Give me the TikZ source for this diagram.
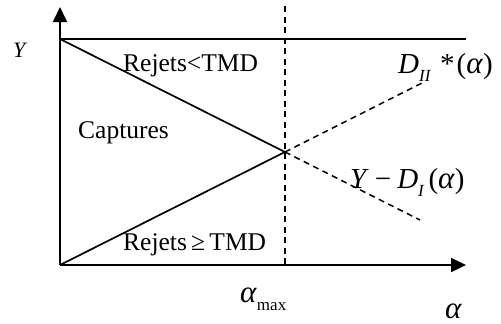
\documentclass[tikz,border=0pt]{standalone}
\usepackage{fontspec}
\setmainfont{Liberation Serif}
\usetikzlibrary{arrows.meta}

\newcommand{\alp}{{\fontsize{31}{34}\selectfont\textit{α}}}
\newcommand{\low}[1]{\raisebox{-0.3em}{\fontsize{17}{19}\selectfont\textit{#1}}}

\begin{document}
\begin{tikzpicture}[x=1pt, y=-1pt,
  axis/.style={line width=1.7pt, -{Triangle[length=15pt, width=14pt]}},
  curve/.style={line width=1.7pt},
  guide/.style={line width=1.5pt, dash pattern=on 6pt off 4.5pt},
  lbl/.style={inner sep=0pt, anchor=base west, font=\fontsize{25.5}{28}\selectfont},
  mlbl/.style={inner sep=0pt, anchor=base west, font=\fontsize{29}{32}\selectfont}
]
\useasboundingbox (0,0) rectangle (501,324);

% points of the plot
\coordinate (O) at (60,265);
\coordinate (ytop) at (60,7);
\coordinate (xend) at (466,265);
\coordinate (Y0) at (60,39);
\coordinate (Yend) at (466,39);
\coordinate (P) at (285,152);
\coordinate (vtop) at (285,6);
\coordinate (vbot) at (285,265);
\coordinate (dI) at (420,220);
\coordinate (dII) at (422,83);

% axes and lines
\draw[axis] (O) -- (ytop);
\draw[axis] (O) -- (xend);
\draw[curve] (Y0) -- (Yend);
\draw[curve] (Y0) -- (P);
\draw[curve] (O) -- (P);
\draw[guide] (vtop) -- (vbot);
\draw[guide] (P) -- (dI);
\draw[guide] (P) -- (dII);

% labels
\node[lbl, font=\fontsize{22}{24}\selectfont] (ylab) at (13,57) {\textit{Y}};
\node[lbl] (rlow) at (123,71) {Rejets<TMD};
\node[lbl] (capt) at (78,138) {Captures};
\node[lbl] (rhigh) at (123,250) {Rejets\,≥\,TMD};
\node[mlbl] (dtwo) at (398,73) {\textit{D}\low{II}\hspace{9pt}*\hspace{2pt}(\alp)};
\node[mlbl] (done) at (350,188) {\textit{Y}\hspace{6pt}−\hspace{6pt}\textit{D}\low{I}\hspace{4pt}(\alp)};
\node[mlbl] (amax) at (240,302) {\alp\low{\upshape max}};
\node[mlbl, font=\fontsize{28}{32}\selectfont] (alab) at (445,318) {\alp};
\end{tikzpicture}
\end{document}
